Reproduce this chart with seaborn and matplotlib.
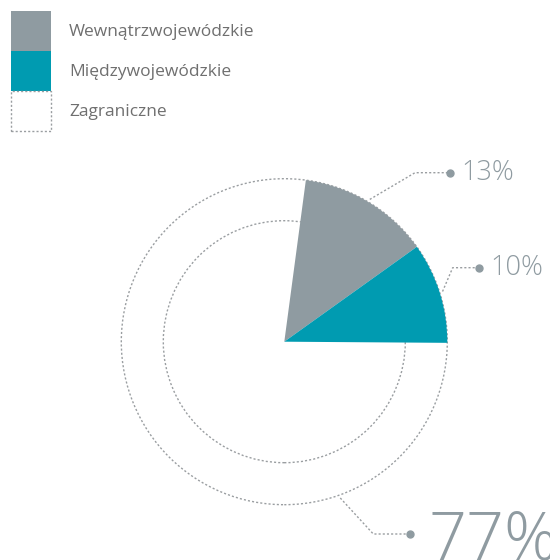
import matplotlib
matplotlib.use('Agg')
import numpy as np
import matplotlib.pyplot as plt
import seaborn as sns
from matplotlib.patches import Circle, Rectangle

# data
categories = ['Wewnątrzwojewódzkie', 'Międzywojewódzkie', 'Zagraniczne']
shares = [13, 10, 77]
pct_labels = ['13%', '10%', '77%']

sns.set_theme(style='white')
plt.rcParams['font.family'] = ['Open Sans', 'DejaVu Sans']

colors = ['#8f9ba1', '#009bb1', 'white']
line_c = '#9a9ea1'
pct_c = '#8f9ba1'
dots = (0, (1.5, 1.5))

fig = plt.figure(figsize=(5.5, 5.6), dpi=100)
ax = fig.add_axes([0, 0, 1, 1])

# pie works in pixel-like units
cx, cy, R = 284.3, 218.3, 163
wedges, _ = ax.pie(shares, colors=colors, startangle=82.4, counterclock=False,
                   center=(cx, cy), radius=R,
                   wedgeprops=dict(linewidth=0, zorder=3))
wedges[2].set_zorder(0)

ax.add_patch(Circle((cx, cy), R, fill=False, ls=dots, lw=1, ec=line_c, zorder=1))
ax.add_patch(Circle((cx, cy), 121, fill=False, ls=dots, lw=1, ec=line_c, zorder=1))


def leader(angle, elbow, end, text, size):
    a = np.deg2rad(angle)
    sx, sy = cx + 166 * np.cos(a), cy + 166 * np.sin(a)
    ax.plot([sx, elbow[0], end[0]], [sy, elbow[1], end[1]], ls=dots, lw=1, color=line_c, zorder=4)
    ax.plot(end[0], end[1], 'o', ms=5, color=pct_c, zorder=5)
    if size > 30:
        ax.text(end[0] + 18, 0, text, fontsize=size, color=pct_c, va='baseline',
                ha='left', fontweight='light')
    else:
        ax.text(end[0] + 11, end[1], text, fontsize=size, color=pct_c, va='center',
                ha='left', fontweight='light')


mid = [(w.theta1 + w.theta2) / 2 for w in wedges]
leader(mid[0], (415, 387.3), (450, 387.3), pct_labels[0], 19.5)
leader(mid[1], (452.7, 292.3), (479, 292.3), pct_labels[1], 19.5)
leader(-70.3, (373.3, 26), (410, 26), pct_labels[2], 48)

# legend: 40px square swatches stacked without gaps
handles = [Rectangle((0, 0), 1, 1, fc=colors[0], ec='none'),
           Rectangle((0, 0), 1, 1, fc=colors[1], ec='none'),
           Rectangle((0, 0), 1, 1, fc='white', ec=line_c, ls=dots, lw=1)]
fs = 12.5
box_pt = 40 * 72 / 100
hh = (box_pt - 0.245 * fs) / (0.65 * fs)
ax.legend(handles, categories, loc='upper left', bbox_to_anchor=(11 / 550, 1 - 11 / 560),
          frameon=False, borderpad=0, borderaxespad=0, handlelength=box_pt / fs,
          handleheight=hh, labelspacing=0, handletextpad=13 / fs,
          fontsize=fs, labelcolor='#6f6f6f')

ax.set_xlim(0, 550)
ax.set_ylim(0, 560)
ax.axis('off')

fig.savefig('out.png', dpi=100)
